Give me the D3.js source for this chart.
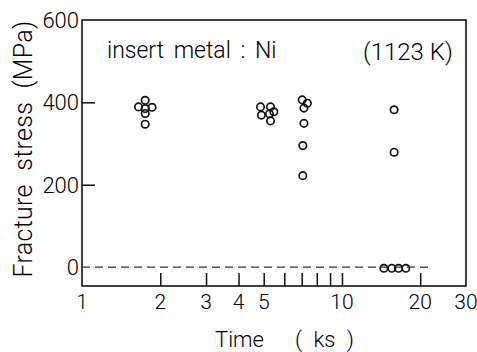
<!DOCTYPE html>
<html>
<head>
<meta charset="utf-8">
<script src="https://cdn.jsdelivr.net/npm/d3@7"></script>
<style>
  body { margin: 0; background: #fff; }
  text { font-family: Roboto, "Liberation Sans", Arial, sans-serif; font-weight: 300; fill: #000; }
</style>
</head>
<body>
<svg id="grafico"></svg>
<script>
// tempo (ks) e tensão de fratura (MPa)
const tempos = [1.75, 1.65, 1.75, 1.86, 1.75, 1.75,
  4.86, 5.31, 4.90, 5.26, 5.47, 5.31,
  7.03, 7.36, 7.14, 7.14, 7.07, 7.07,
  15.87, 15.87, 14.5, 15.55, 16.5, 17.6];
const tensoes = [405, 389, 385, 388, 373, 347,
  389, 389, 369, 372, 377, 355,
  406, 398, 386, 349, 295, 222,
  382, 279, -3, -3, -3, -3];

const ticksX = [1, 2, 3, 4, 5, 6, 7, 8, 9, 10, 20, 30];
const rotulosX = [1, 2, 3, 4, 5, 10, 20, 30];
const ticksY = [0, 200, 400, 600];
const fimLinhaZero = 21.6;

function criaGrafico(parametros) {
  const svg = d3.select('#grafico');
  svg.attr('width', parametros.largura).attr('height', parametros.altura);

  const margem = { esquerda: 82, direita: 11, superior: 20, inferior: 66 };
  const larguraPlotagem = parametros.largura - margem.esquerda - margem.direita;
  const alturaPlotagem = parametros.altura - margem.superior - margem.inferior;

  const x = d3.scaleLog().domain([1, 30]).range([0, larguraPlotagem]);
  const y = d3.scaleLinear().domain([-46, 600]).range([alturaPlotagem, 0]);

  const plotagem = svg.append('g').attr('transform', `translate(${margem.esquerda}, ${margem.superior})`);

  // moldura
  plotagem.append('rect')
    .attr('x', 0).attr('y', 0)
    .attr('width', larguraPlotagem).attr('height', alturaPlotagem)
    .attr('fill', 'none').attr('stroke', '#111').attr('stroke-width', 1.6);

  // eixo x: marcas para dentro
  const eixoX = d3.axisTop(x).tickValues(ticksX.filter(d => d > 1 && d < 30)).tickSize(13).tickFormat('');
  plotagem.append('g')
    .attr('transform', 'translate(0, ' + alturaPlotagem + ')')
    .attr('id', 'eixoX')
    .call(eixoX)
    .call(g => g.select('.domain').remove())
    .call(g => g.selectAll('line').attr('stroke', '#111').attr('stroke-width', 1.5));

  plotagem.selectAll('.rotuloX')
    .data(rotulosX)
    .enter()
    .append('text')
    .classed('rotuloX', true)
    .attr('x', d => x(d))
    .attr('y', alturaPlotagem + 23)
    .style('text-anchor', 'middle')
    .style('font-size', '21px')
    .text(d => d);

  // eixo y: marcas para dentro
  const eixoY = d3.axisRight(y).tickValues([200, 400]).tickSize(13).tickFormat('');
  plotagem.append('g')
    .attr('id', 'eixoY')
    .call(eixoY)
    .call(g => g.select('.domain').remove())
    .call(g => g.selectAll('line').attr('stroke', '#111').attr('stroke-width', 1.5));

  plotagem.selectAll('.rotuloY')
    .data(ticksY)
    .enter()
    .append('text')
    .classed('rotuloY', true)
    .attr('x', -3)
    .attr('y', d => y(d))
    .attr('dy', '0.36em')
    .style('text-anchor', 'end')
    .style('font-size', '22px')
    .text(d => d);

  // linha tracejada em zero
  plotagem.append('line')
    .attr('x1', x(1)).attr('x2', x(fimLinhaZero))
    .attr('y1', y(0)).attr('y2', y(0))
    .attr('stroke', '#333').attr('stroke-width', 1.3)
    .attr('stroke-dasharray', '8,5');

  const dados = tempos.map((t, i) => ({ tempo: t, tensao: tensoes[i] }));

  plotagem.selectAll('.ponto')
    .data(dados)
    .enter()
    .append('circle')
    .classed('ponto', true)
    .attr('cx', d => x(d.tempo))
    .attr('cy', d => y(d.tensao))
    .attr('r', 3.7)
    .attr('fill', 'none')
    .attr('stroke', '#111')
    .attr('stroke-width', 1.7);

  // anotações
  plotagem.append('text')
    .attr('x', 25).attr('y', 38)
    .style('font-size', '23px')
    .style('word-spacing', '4px')
    .text('insert metal : Ni');

  plotagem.append('text')
    .attr('x', 281).attr('y', 40)
    .style('font-size', '24px')
    .text('(1123 K)');

  // títulos
  svg.append('text')
    .attr('x', 0).attr('y', 0)
    .style('text-anchor', 'middle')
    .style('font-size', '25px')
    .style('word-spacing', '7px')
    .style('letter-spacing', '0.3px')
    .attr('transform', 'translate(32, ' + (margem.superior + 129) + ') rotate(-90)')
    .text(parametros.tituloY);

  svg.append('text')
    .attr('x', 215).attr('y', 347)
    .style('font-size', '22px')
    .text(parametros.tituloX);

  svg.append('text')
    .attr('x', 295).attr('y', 347)
    .style('font-size', '22px')
    .style('word-spacing', '6px')
    .text(parametros.unidadeX);
}

criaGrafico({
  largura: 477,
  altura: 352,
  tituloX: 'Time',
  unidadeX: '( ks )',
  tituloY: 'Fracture stress (MPa)'
});
</script>
</body>
</html>
